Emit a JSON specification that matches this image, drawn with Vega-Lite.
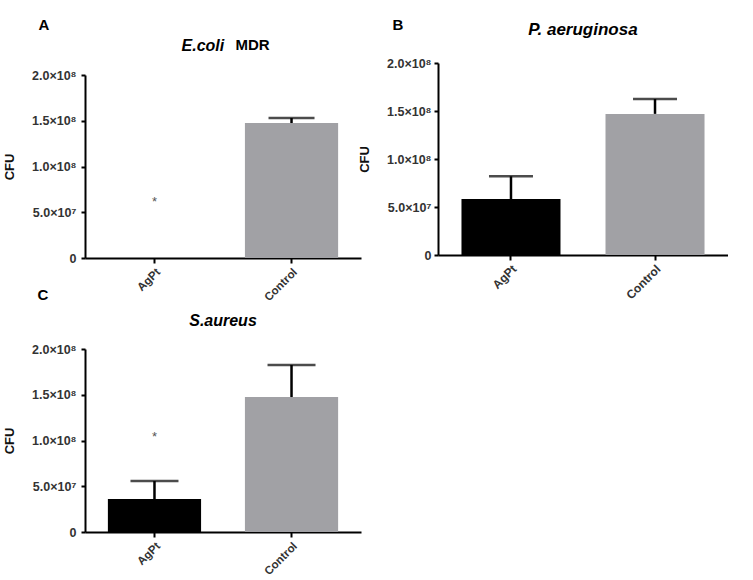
{
  "$schema": "https://vega.github.io/schema/vega-lite/v6.json",
  "padding": {"left": 3, "top": 18, "right": 0, "bottom": 0},
  "background": "white",
  "datasets": {
    "cfu": [
      {"panel": "A", "group": "AgPt", "mean": 0, "upper": 0, "star": 61000000},
      {"panel": "A", "group": "Control", "mean": 147500000, "upper": 153000000, "star": null},
      {"panel": "B", "group": "AgPt", "mean": 58300000, "upper": 82000000, "star": null},
      {"panel": "B", "group": "Control", "mean": 147000000, "upper": 162500000, "star": null},
      {"panel": "C", "group": "AgPt", "mean": 36000000, "upper": 55700000, "star": 104000000},
      {"panel": "C", "group": "Control", "mean": 147500000, "upper": 182500000, "star": null}
    ]
  },
  "config": {
    "font": "Liberation Sans",
    "view": {"stroke": null},
    "axis": {"domainColor": "#000", "domainWidth": 2, "tickColor": "#000", "tickWidth": 2, "grid": false, "labelFont": "Liberation Sans", "labelFontWeight": "bold", "labelFontSize": 12.5, "labelColor": "#333", "titleFontWeight": "bold", "titleFontSize": 13, "titleColor": "#111"},
    "axisY": {"tickSize": 4, "labelPadding": 5, "titlePadding": 15},
    "axisX": {"tickSize": 5, "labelAngle": -45, "labelPadding": 3, "labelFontSize": 11.5},
    "title": {"font": "Liberation Sans", "fontWeight": "bold", "color": "#000"}
  },
  "spacing": -3,
  "hconcat": [
    {
      "spacing": -16,
      "vconcat": [
        {
          "title": {"text": "A", "anchor": "start", "frame": "bounds", "dx": 35, "fontSize": 15, "offset": 5},
          "vconcat": [
            {
              "title": {"text": "MDR", "anchor": "start", "frame": "bounds", "dx": 232, "fontSize": 15, "fontStyle": "normal", "offset": -15},
              "vconcat": [
                {
                  "title": {"text": "E.coli", "fontSize": 16, "fontStyle": "italic", "anchor": "start", "frame": "bounds", "dx": 178, "offset": 9},
                  "width": 276,
                  "height": 195,
                  "data": {"name": "cfu"},
                  "transform": [{"filter": "datum.panel == 'A'"}],
                  "encoding": {"x": {"field": "group", "type": "nominal", "sort": ["AgPt", "Control"], "title": null, "scale": {"paddingInner": 0.32, "paddingOuter": 0.167}}},
                  "layer": [
                    {"mark": {"type": "bar"}, "encoding": {"y": {"field": "mean", "type": "quantitative", "title": "CFU", "scale": {"domain": [0, 200000000], "range": [195, 12]}, "axis": {"values": [0, 50000000, 100000000, 150000000, 200000000], "labelExpr": "datum.value == 0 ? '0' : datum.value >= 100000000 ? format(datum.value / 100000000, '.1f') + '×10⁸' : format(datum.value / 10000000, '.1f') + '×10⁷'"}}, "color": {"field": "group", "type": "nominal", "scale": {"domain": ["AgPt", "Control"], "range": ["#000000", "#a1a1a5"]}, "legend": null}}},
                    {"transform": [{"filter": "datum.upper > datum.mean"}], "mark": {"type": "rule", "color": "#000", "strokeWidth": 2.5}, "encoding": {"y": {"field": "mean", "type": "quantitative", "title": "CFU"}, "y2": {"field": "upper"}}},
                    {"transform": [{"filter": "datum.upper > datum.mean"}], "mark": {"type": "tick", "color": "#000", "thickness": 2.5, "size": 46}, "encoding": {"y": {"field": "upper", "type": "quantitative", "title": "CFU"}}},
                    {"transform": [{"filter": "datum.star != null"}], "mark": {"type": "text", "text": "*", "fontSize": 13, "color": "#555", "baseline": "middle"}, "encoding": {"y": {"field": "star", "type": "quantitative", "title": "CFU"}}}
                  ]
                }
              ]
            }
          ]
        },
        {
          "title": {"text": "C", "anchor": "start", "frame": "bounds", "dx": 34, "fontSize": 15, "offset": 10},
          "vconcat": [
            {
              "title": {"text": "S.aureus", "fontSize": 16, "fontStyle": "italic", "anchor": "middle", "frame": "group", "offset": 14},
              "width": 276,
              "height": 183,
              "data": {"name": "cfu"},
              "transform": [{"filter": "datum.panel == 'C'"}],
              "encoding": {"x": {"field": "group", "type": "nominal", "sort": ["AgPt", "Control"], "title": null, "scale": {"paddingInner": 0.32, "paddingOuter": 0.167}}},
              "layer": [
                {"mark": {"type": "bar"}, "encoding": {"y": {"field": "mean", "type": "quantitative", "title": "CFU", "scale": {"domain": [0, 200000000]}, "axis": {"values": [0, 50000000, 100000000, 150000000, 200000000], "labelExpr": "datum.value == 0 ? '0' : datum.value >= 100000000 ? format(datum.value / 100000000, '.1f') + '×10⁸' : format(datum.value / 10000000, '.1f') + '×10⁷'"}}, "color": {"field": "group", "type": "nominal", "scale": {"domain": ["AgPt", "Control"], "range": ["#000000", "#a1a1a5"]}, "legend": null}}},
                {"transform": [{"filter": "datum.upper > datum.mean"}], "mark": {"type": "rule", "color": "#000", "strokeWidth": 2.5}, "encoding": {"y": {"field": "mean", "type": "quantitative", "title": "CFU"}, "y2": {"field": "upper"}}},
                {"transform": [{"filter": "datum.upper > datum.mean"}], "mark": {"type": "tick", "color": "#000", "thickness": 2.5, "size": 48}, "encoding": {"y": {"field": "upper", "type": "quantitative", "title": "CFU"}}},
                {"transform": [{"filter": "datum.star != null"}], "mark": {"type": "text", "text": "*", "fontSize": 13, "color": "#555", "baseline": "middle"}, "encoding": {"y": {"field": "star", "type": "quantitative", "title": "CFU"}}}
              ]
            }
          ]
        }
      ]
    },
    {
      "title": {"text": "B", "anchor": "start", "frame": "bounds", "dx": 34, "fontSize": 15, "offset": -12},
      "vconcat": [
        {
          "title": {"text": "P. aeruginosa", "fontSize": 17, "fontStyle": "italic", "anchor": "middle", "frame": "group", "offset": 18},
          "width": 290,
          "height": 192,
          "data": {"name": "cfu"},
          "transform": [{"filter": "datum.panel == 'B'"}],
          "encoding": {"x": {"field": "group", "type": "nominal", "sort": ["AgPt", "Control"], "title": null, "scale": {"paddingInner": 0.3125, "paddingOuter": 0.163}, "axis": {"labelFontSize": 12}}},
          "layer": [
            {"mark": {"type": "bar"}, "encoding": {"y": {"field": "mean", "type": "quantitative", "title": "CFU", "scale": {"domain": [0, 200000000]}, "axis": {"labelFontSize": 12.5, "labelPadding": 3, "values": [0, 50000000, 100000000, 150000000, 200000000], "labelExpr": "datum.value == 0 ? '0' : datum.value >= 100000000 ? format(datum.value / 100000000, '.1f') + '×10⁸' : format(datum.value / 10000000, '.1f') + '×10⁷'"}}, "color": {"field": "group", "type": "nominal", "scale": {"domain": ["AgPt", "Control"], "range": ["#000000", "#a1a1a5"]}, "legend": null}}},
            {"transform": [{"filter": "datum.upper > datum.mean"}], "mark": {"type": "rule", "color": "#000", "strokeWidth": 2.5}, "encoding": {"y": {"field": "mean", "type": "quantitative", "title": "CFU"}, "y2": {"field": "upper"}}},
            {"transform": [{"filter": "datum.upper > datum.mean"}], "mark": {"type": "tick", "color": "#000", "thickness": 2.5, "size": 44}, "encoding": {"y": {"field": "upper", "type": "quantitative", "title": "CFU"}}},
            {"transform": [{"filter": "datum.star != null"}], "mark": {"type": "text", "text": "*", "fontSize": 13, "color": "#555", "baseline": "middle"}, "encoding": {"y": {"field": "star", "type": "quantitative", "title": "CFU"}}}
          ]
        }
      ]
    }
  ]
}
